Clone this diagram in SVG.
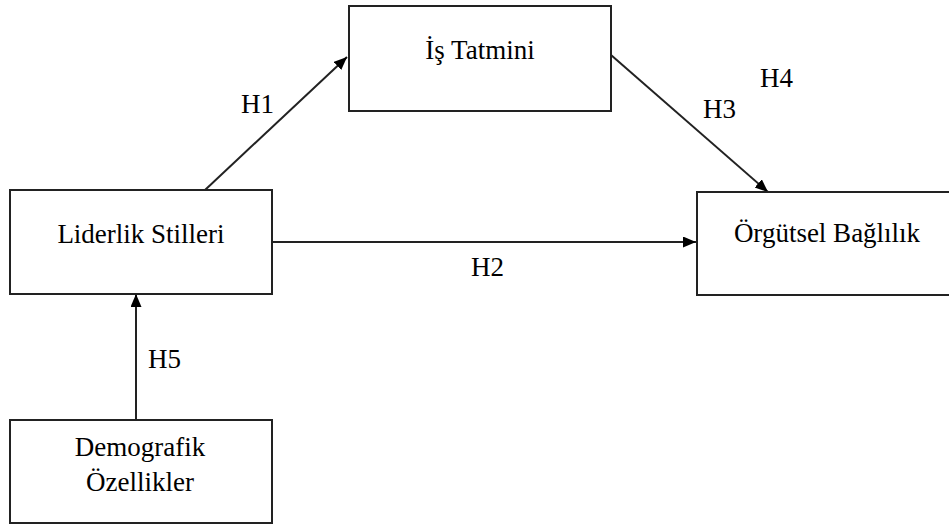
<svg xmlns="http://www.w3.org/2000/svg" width="949" height="526" viewBox="0 0 949 526">
  <style>
    .box { fill: #ffffff; stroke: #222222; stroke-width: 2; }
    .lbl { font-family: "Liberation Serif", "Times New Roman", serif; font-size: 27px; fill: #000000; }
    .edge { stroke: #222222; stroke-width: 2; fill: none; marker-end: url(#arr); }
  </style>
  <defs>
    <marker id="arr" markerUnits="userSpaceOnUse" markerWidth="14" markerHeight="12" refX="13" refY="5.5" orient="auto">
      <path d="M0,0 L13,5.5 L0,11 z" fill="#000000"/>
    </marker>
  </defs>
  <rect width="949" height="526" fill="#ffffff"/>
  <g id="connectors">
    <line class="edge" x1="205" y1="190" x2="347" y2="57"/>
    <line class="edge" x1="611" y1="55" x2="768" y2="192"/>
    <line class="edge" x1="272" y1="242" x2="696" y2="242"/>
    <line class="edge" x1="136" y1="420" x2="136" y2="294"/>
    <text class="lbl" x="241" y="113">H1</text>
    <text class="lbl" x="471" y="276">H2</text>
    <text class="lbl" x="703" y="118">H3</text>
    <text class="lbl" x="760" y="87">H4</text>
    <text class="lbl" x="148" y="368">H5</text>
  </g>
  <g id="is-tatmini">
    <rect class="box" x="349" y="6" width="262" height="105"/>
    <text class="lbl" x="480" y="59" text-anchor="middle">İş Tatmini</text>
  </g>
  <g id="liderlik-stilleri">
    <rect class="box" x="10" y="190" width="262" height="104"/>
    <text class="lbl" x="141" y="243" text-anchor="middle">Liderlik Stilleri</text>
  </g>
  <g id="orgutsel-baglilik">
    <rect class="box" x="697" y="192" width="262" height="103"/>
    <text class="lbl" x="827" y="242" text-anchor="middle">Örgütsel Bağlılık</text>
  </g>
  <g id="demografik-ozellikler">
    <rect class="box" x="10" y="420" width="262" height="103"/>
    <text class="lbl" x="140" y="456" text-anchor="middle">Demografik</text>
    <text class="lbl" x="140" y="491" text-anchor="middle">Özellikler</text>
  </g>
</svg>
